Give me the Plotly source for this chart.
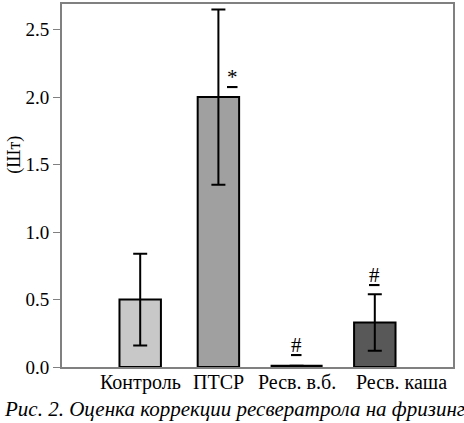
import plotly.graph_objects as go

# Группы и значения (среднее и ошибка)
groups = ["Контроль", "ПТСР", "Ресв. в.б.", "Ресв. каша"]
means = [0.5, 2.0, 0.01, 0.33]
errors = [0.34, 0.65, 0.0, 0.21]
marks = ["", "*", "#", "#"]
mark_y = [None, 2.15, 0.16, 0.68]

colors = ["#c8c8c8", "#a0a0a0", "#000000", "#585858"]
widths = [0.53, 0.53, 0.64, 0.53]

serif = "Liberation Serif, Times New Roman, serif"

fig = go.Figure()

fig.add_trace(go.Bar(
    x=list(range(len(groups))), y=means,
    width=widths,
    marker=dict(color=colors, line=dict(color="black", width=2)),
    error_y=dict(type="data", array=errors, color="black", thickness=2, width=7),
    showlegend=False
))

# Подписи групп
for i, g in enumerate(groups):
    fig.add_annotation(
        x=i, y=0, xref="x", yref="paper", text=g, showarrow=False,
        yanchor="top", yshift=-2, xshift=27 if i == 3 else 0,
        font=dict(family=serif, size=20, color="black")
    )

# Значки достоверности
for i, m in enumerate(marks):
    if m:
        fig.add_annotation(
            x=i, y=mark_y[i], text="<u>" + m + "</u>", showarrow=False,
            xshift=14 if m == "*" else 0,
            font=dict(family=serif, size=21, color="black")
        )

# Подпись оси Y
fig.add_annotation(
    x=0, y=0.585, xref="paper", yref="paper", text="(Шт)", showarrow=False,
    textangle=-90, xanchor="center", xshift=-47,
    font=dict(family=serif, size=18, color="black")
)

# Подпись рисунка
fig.add_annotation(
    x=0, y=0, xref="paper", yref="paper", xanchor="left", yanchor="middle",
    xshift=-60, yshift=-42, showarrow=False,
    text="<i>Рис. 2. Оценка коррекции ресвератрола на фризинг</i>",
    font=dict(family=serif, size=21, color="black")
)

fig.update_layout(
    width=464, height=423,
    margin=dict(l=62, r=11, t=2, b=56),
    plot_bgcolor="white", paper_bgcolor="white",
    font=dict(family=serif, size=19, color="black"),
    xaxis=dict(range=[-1, 4], showticklabels=False, ticks="", showgrid=False,
               zeroline=False, showline=True, linecolor="#808080", linewidth=2,
               mirror=True),
    yaxis=dict(range=[0, 2.69], tickvals=[0, 0.5, 1.0, 1.5, 2.0, 2.5],
               tickformat=".1f", ticks="outside", ticklen=7, tickcolor="#808080",
               showgrid=False, zeroline=False, showline=True, linecolor="#808080",
               linewidth=2, mirror=True,
               tickfont=dict(family=serif, size=19, color="black"))
)

fig.write_html("out.html", config={"displayModeBar": False},
               post_script="document.body.style.margin='0';")
